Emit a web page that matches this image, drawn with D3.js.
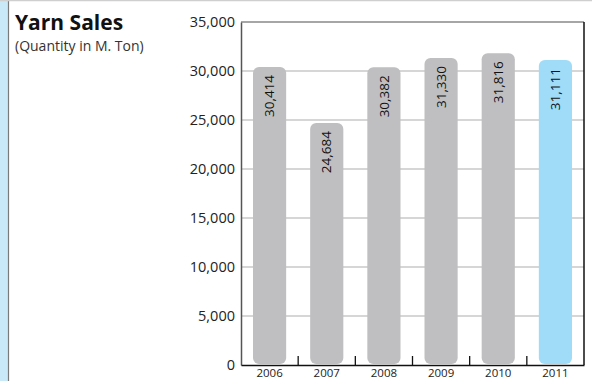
<!DOCTYPE html>
<html>
<head>
<meta charset="utf-8">
<script src="https://cdn.jsdelivr.net/npm/d3@7"></script>
<style>
  body { margin: 0; background: #fff; }
  text { font-family: "Open Sans", sans-serif; }
</style>
</head>
<body>
<svg width="592" height="381"></svg>
<script>
const years = ["2006", "2007", "2008", "2009", "2010", "2011"];
const sales = [30414, 24684, 30382, 31330, 31816, 31111];
const yTicks = [0, 5000, 10000, 15000, 20000, 25000, 30000, 35000];

let svg = d3.select("svg"),
    width = +svg.attr("width"),
    height = +svg.attr("height");

const margin = { left: 241, right: 8, top: 22, bottom: 16 };
const fmt = d3.format(",");

// page furniture
svg.append("rect").attr("x", 0).attr("y", 0).attr("width", 8).attr("height", height).attr("fill", "#c9e9f8");
svg.append("line").attr("x1", 8.5).attr("x2", 8.5).attr("y1", 0).attr("y2", height)
    .attr("stroke", "#7a7a7a").attr("stroke-width", 1.2);
svg.append("line").attr("x1", 0).attr("x2", width).attr("y1", 0.5).attr("y2", 0.5)
    .attr("stroke", "#cfcfcf").attr("stroke-width", 1.5);

svg.append("text").attr("x", 15).attr("y", 30)
    .style("font-size", "21px").style("font-weight", "bold").attr("fill", "#111")
    .text("Yarn Sales");
svg.append("text").attr("x", 15).attr("y", 51)
    .style("font-size", "14px").attr("fill", "#333")
    .text("(Quantity in M. Ton)");

let x = d3.scaleBand()
    .domain(years)
    .range([margin.left, width - margin.right])
    .paddingInner(0.42)
    .paddingOuter(0.21);

let y = d3.scaleLinear()
    .domain([0, 35000])
    .range([height - margin.bottom, margin.top]);

// grid
svg.append("g")
    .selectAll("line")
    .data(yTicks.filter(d => d > 0 && d < 35000))
    .enter().append("line")
    .attr("x1", margin.left).attr("x2", width - margin.right)
    .attr("y1", d => y(d)).attr("y2", d => y(d))
    .attr("stroke", "#c8c8c8").attr("stroke-width", 1.3);

// frame top/right
svg.append("line").attr("x1", margin.left).attr("x2", width - margin.right)
    .attr("y1", y(35000)).attr("y2", y(35000))
    .attr("stroke", "#888").attr("stroke-width", 1.5);
svg.append("line").attr("x1", width - margin.right).attr("x2", width - margin.right)
    .attr("y1", y(35000)).attr("y2", y(0))
    .attr("stroke", "#111").attr("stroke-width", 1.5);

// bars
let bars = svg.append("g").selectAll("g")
    .data(years.map((d, i) => ({ year: d, value: sales[i] })))
    .enter().append("g");

bars.append("rect")
    .attr("x", d => x(d.year))
    .attr("y", d => y(d.value))
    .attr("width", x.bandwidth())
    .attr("height", d => y(0) - 1 - y(d.value))
    .attr("rx", 6)
    .attr("fill", d => d.year === "2011" ? "#a0dcf7" : "#bfbfc1");

bars.append("text")
    .attr("transform", d => "translate(" + (x(d.year) + x.bandwidth() / 2) + "," + (y(d.value) + 8) + ") rotate(-90)")
    .attr("text-anchor", "end")
    .attr("dy", "0.35em")
    .style("font-size", "13.5px")
    .attr("fill", "#111")
    .text(d => fmt(d.value));

// y axis
let yAxis = svg.append("g")
    .attr("transform", "translate(" + margin.left + ",0)")
    .call(d3.axisLeft(y).tickValues(yTicks).tickFormat(fmt).tickSize(0).tickPadding(6));
yAxis.select(".domain").attr("stroke", "#555").attr("stroke-width", 1.5);
yAxis.selectAll("text").style("font-size", "14.5px").attr("fill", "#222")
    .style("font-family", "'Open Sans', sans-serif");

// x axis
let xAxis = svg.append("g")
    .attr("transform", "translate(0," + y(0) + ")")
    .call(d3.axisBottom(x).tickSize(0).tickPadding(4));
xAxis.select(".domain").attr("stroke", "#111").attr("stroke-width", 1.5);
xAxis.selectAll("text").style("font-size", "11.5px").attr("fill", "#222")
    .style("font-family", "'Open Sans', sans-serif");

// separators between bars
const step = x.step();
svg.append("g").selectAll("line")
    .data(years.slice(1))
    .enter().append("line")
    .attr("x1", d => x(d) - (step - x.bandwidth()) / 2)
    .attr("x2", d => x(d) - (step - x.bandwidth()) / 2)
    .attr("y1", y(0)).attr("y2", y(0) - 9)
    .attr("stroke", "#111").attr("stroke-width", 1.3);
</script>
</body>
</html>
